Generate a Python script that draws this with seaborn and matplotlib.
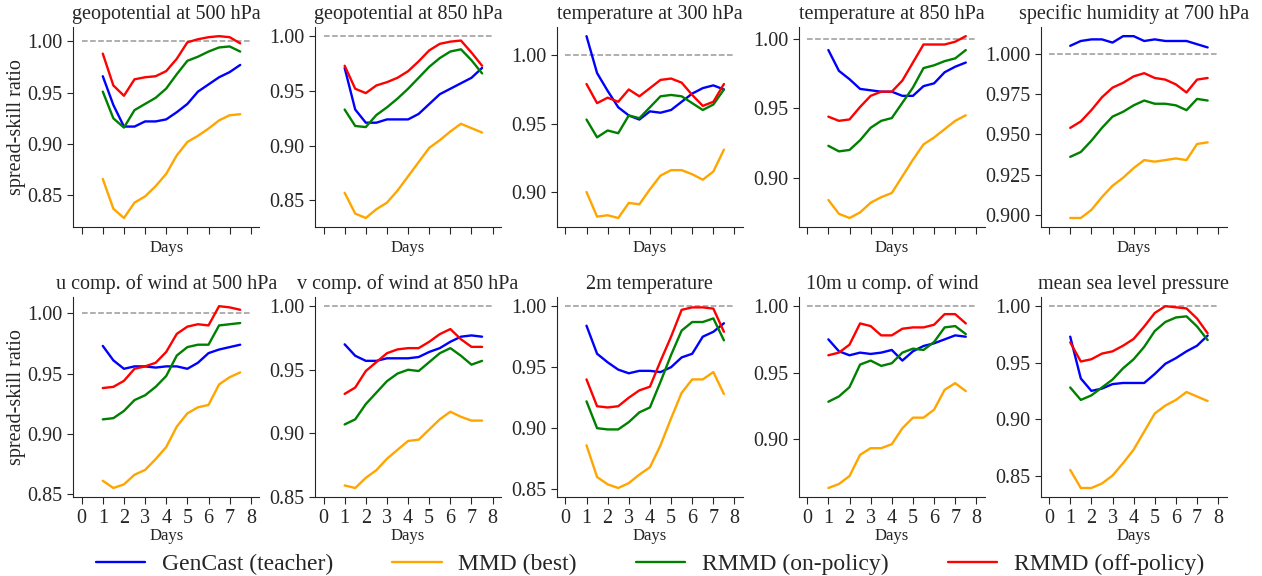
import numpy as np
import pandas as pd
import matplotlib
matplotlib.use("Agg")
import matplotlib.pyplot as plt
import seaborn as sns

# lead times (days) and the four models
days = [1, 1.5, 2, 2.5, 3, 3.5, 4, 4.5, 5, 5.5, 6, 6.5, 7, 7.5]
methods = ["GenCast (teacher)", "MMD (best)", "RMMD (on-policy)", "RMMD (off-policy)"]
colors = ["blue", "orange", "green", "red"]

titles = ["geopotential at 500 hPa", "geopotential at 850 hPa", "temperature at 300 hPa",
          "temperature at 850 hPa", "specific humidity at 700 hPa",
          "u comp. of wind at 500 hPa", "v comp. of wind at 850 hPa", "2m temperature",
          "10m u comp. of wind", "mean sea level pressure"]

# spread-skill ratio, rows in the order of `methods`
z500 = [
    [0.966, 0.938, 0.917, 0.917, 0.922, 0.922, 0.924, 0.931, 0.939, 0.951, 0.958, 0.965, 0.970, 0.977],
    [0.866, 0.837, 0.828, 0.843, 0.849, 0.859, 0.871, 0.889, 0.902, 0.908, 0.915, 0.923, 0.928, 0.929],
    [0.951, 0.925, 0.916, 0.933, 0.939, 0.945, 0.954, 0.968, 0.981, 0.985, 0.990, 0.994, 0.995, 0.990],
    [0.988, 0.957, 0.947, 0.963, 0.965, 0.966, 0.971, 0.983, 0.999, 1.002, 1.004, 1.005, 1.004, 0.998],
]
z850 = [
    [0.971, 0.933, 0.921, 0.921, 0.924, 0.924, 0.924, 0.929, 0.938, 0.947, 0.952, 0.957, 0.962, 0.971],
    [0.857, 0.838, 0.834, 0.842, 0.848, 0.859, 0.872, 0.885, 0.898, 0.905, 0.913, 0.920, 0.916, 0.912],
    [0.933, 0.918, 0.917, 0.928, 0.935, 0.943, 0.952, 0.962, 0.972, 0.980, 0.986, 0.988, 0.978, 0.966],
    [0.973, 0.952, 0.948, 0.955, 0.958, 0.962, 0.968, 0.977, 0.987, 0.993, 0.995, 0.996, 0.985, 0.973],
]
t300 = [
    [1.014, 0.987, 0.974, 0.962, 0.956, 0.953, 0.959, 0.958, 0.960, 0.966, 0.972, 0.976, 0.978, 0.975],
    [0.900, 0.882, 0.883, 0.881, 0.892, 0.891, 0.902, 0.912, 0.916, 0.916, 0.913, 0.909, 0.915, 0.931],
    [0.953, 0.940, 0.945, 0.943, 0.956, 0.954, 0.962, 0.970, 0.971, 0.970, 0.965, 0.960, 0.964, 0.975],
    [0.979, 0.965, 0.969, 0.966, 0.975, 0.970, 0.976, 0.982, 0.983, 0.980, 0.971, 0.963, 0.966, 0.979],
]
t850 = [
    [0.992, 0.977, 0.971, 0.964, 0.963, 0.962, 0.962, 0.959, 0.959, 0.966, 0.968, 0.976, 0.980, 0.983],
    [0.884, 0.874, 0.871, 0.875, 0.882, 0.886, 0.889, 0.901, 0.913, 0.924, 0.929, 0.935, 0.941, 0.945],
    [0.923, 0.919, 0.920, 0.927, 0.936, 0.941, 0.943, 0.954, 0.965, 0.979, 0.981, 0.984, 0.986, 0.992],
    [0.944, 0.941, 0.942, 0.951, 0.959, 0.962, 0.962, 0.970, 0.983, 0.996, 0.996, 0.996, 0.998, 1.002],
]
q700 = [
    [1.005, 1.008, 1.009, 1.009, 1.007, 1.011, 1.011, 1.008, 1.009, 1.008, 1.008, 1.008, 1.006, 1.004],
    [0.898, 0.898, 0.903, 0.911, 0.918, 0.923, 0.929, 0.934, 0.933, 0.934, 0.935, 0.934, 0.944, 0.945],
    [0.936, 0.939, 0.946, 0.954, 0.961, 0.964, 0.968, 0.971, 0.969, 0.969, 0.968, 0.965, 0.972, 0.971],
    [0.954, 0.958, 0.965, 0.973, 0.979, 0.982, 0.986, 0.988, 0.985, 0.984, 0.981, 0.976, 0.984, 0.985],
]
u500 = [
    [0.973, 0.961, 0.954, 0.956, 0.956, 0.955, 0.956, 0.956, 0.954, 0.959, 0.967, 0.970, 0.972, 0.974],
    [0.861, 0.855, 0.858, 0.866, 0.870, 0.879, 0.889, 0.906, 0.917, 0.922, 0.924, 0.941, 0.947, 0.951],
    [0.912, 0.913, 0.919, 0.928, 0.932, 0.939, 0.948, 0.965, 0.972, 0.974, 0.974, 0.990, 0.991, 0.992],
    [0.938, 0.939, 0.944, 0.954, 0.956, 0.959, 0.968, 0.983, 0.989, 0.991, 0.990, 1.006, 1.005, 1.003],
]
v850 = [
    [0.970, 0.961, 0.957, 0.957, 0.959, 0.959, 0.959, 0.960, 0.964, 0.967, 0.972, 0.976, 0.977, 0.976],
    [0.859, 0.857, 0.865, 0.871, 0.880, 0.887, 0.894, 0.895, 0.903, 0.911, 0.917, 0.913, 0.910, 0.910],
    [0.907, 0.911, 0.923, 0.932, 0.941, 0.947, 0.950, 0.949, 0.956, 0.963, 0.967, 0.961, 0.954, 0.957],
    [0.931, 0.936, 0.949, 0.956, 0.963, 0.966, 0.967, 0.967, 0.972, 0.978, 0.982, 0.974, 0.968, 0.968],
]
t2m = [
    [0.984, 0.961, 0.954, 0.948, 0.945, 0.947, 0.947, 0.946, 0.950, 0.958, 0.961, 0.975, 0.979, 0.986],
    [0.886, 0.860, 0.854, 0.851, 0.855, 0.862, 0.868, 0.886, 0.908, 0.929, 0.940, 0.940, 0.946, 0.928],
    [0.922, 0.900, 0.899, 0.899, 0.905, 0.913, 0.917, 0.938, 0.960, 0.980, 0.987, 0.987, 0.990, 0.972],
    [0.940, 0.918, 0.917, 0.918, 0.925, 0.931, 0.934, 0.955, 0.975, 0.997, 0.999, 0.999, 0.998, 0.979],
]
u10 = [
    [0.975, 0.966, 0.963, 0.965, 0.964, 0.965, 0.967, 0.959, 0.966, 0.970, 0.972, 0.975, 0.978, 0.977],
    [0.863, 0.866, 0.872, 0.888, 0.893, 0.893, 0.896, 0.908, 0.916, 0.916, 0.922, 0.937, 0.942, 0.936],
    [0.928, 0.932, 0.939, 0.956, 0.959, 0.955, 0.957, 0.965, 0.968, 0.967, 0.973, 0.984, 0.985, 0.979],
    [0.963, 0.965, 0.971, 0.987, 0.985, 0.978, 0.978, 0.983, 0.984, 0.984, 0.986, 0.994, 0.994, 0.987],
]
mslp = [
    [0.973, 0.936, 0.925, 0.927, 0.931, 0.932, 0.932, 0.932, 0.940, 0.949, 0.954, 0.960, 0.965, 0.974],
    [0.855, 0.839, 0.839, 0.843, 0.850, 0.861, 0.873, 0.889, 0.905, 0.912, 0.917, 0.924, 0.920, 0.916],
    [0.928, 0.917, 0.921, 0.928, 0.935, 0.945, 0.953, 0.964, 0.978, 0.986, 0.990, 0.991, 0.982, 0.970],
    [0.968, 0.951, 0.953, 0.958, 0.960, 0.965, 0.971, 0.982, 0.994, 1.000, 0.999, 0.998, 0.989, 0.976],
]
panels = [z500, z850, t300, t850, q700, u500, v850, t2m, u10, mslp]
ytick_step = [0.05, 0.05, 0.05, 0.05, 0.025, 0.05, 0.05, 0.05, 0.05, 0.05]

sns.set_style("ticks")
plt.rcParams["font.family"] = ["Liberation Serif", "DejaVu Serif"]
plt.rcParams["xtick.major.size"] = 5
plt.rcParams["ytick.major.size"] = 4

fig, axes = plt.subplots(2, 5, figsize=(12.62, 5.76), dpi=100)
fig.subplots_adjust(left=0.058, right=0.972, bottom=0.137, top=0.953, wspace=0.30, hspace=0.35)

for i, ax in enumerate(axes.flat):
    rows = []
    for m, vals in zip(methods, panels[i]):
        for d, v in zip(days, vals):
            rows.append({"day": d, "ratio": v, "method": m})
    df = pd.DataFrame(rows)
    ax.plot([0, 8], [1, 1], ls="--", color="#999999", lw=1.1)
    sns.lineplot(data=df, x="day", y="ratio", hue="method", hue_order=methods,
                 palette=colors, lw=1.7, ax=ax, legend=(i == 0))
    if i == 0:
        handles, labels = ax.get_legend_handles_labels()
        ax.get_legend().remove()
    ax.set_title(titles[i], fontsize=14.5)
    ax.set_xticks(range(9))
    ax.yaxis.set_major_locator(plt.MultipleLocator(ytick_step[i]))
    ax.set_xlabel("Days", fontsize=12, labelpad=4 if i < 5 else 0)
    ax.set_ylabel("spread-skill ratio" if i % 5 == 0 else "", fontsize=14.5, labelpad=1)
    ax.tick_params(labelsize=14.5)
    if i < 5:
        ax.tick_params(axis="x", labelbottom=False)
    sns.despine(ax=ax)

fig.legend(handles, labels, loc="lower center", bbox_to_anchor=(0.515, -0.035), ncol=4,
           frameon=False, fontsize=17, handlelength=2.1, handletextpad=0.7, columnspacing=2.5)

plt.savefig("out.png", dpi=100)
